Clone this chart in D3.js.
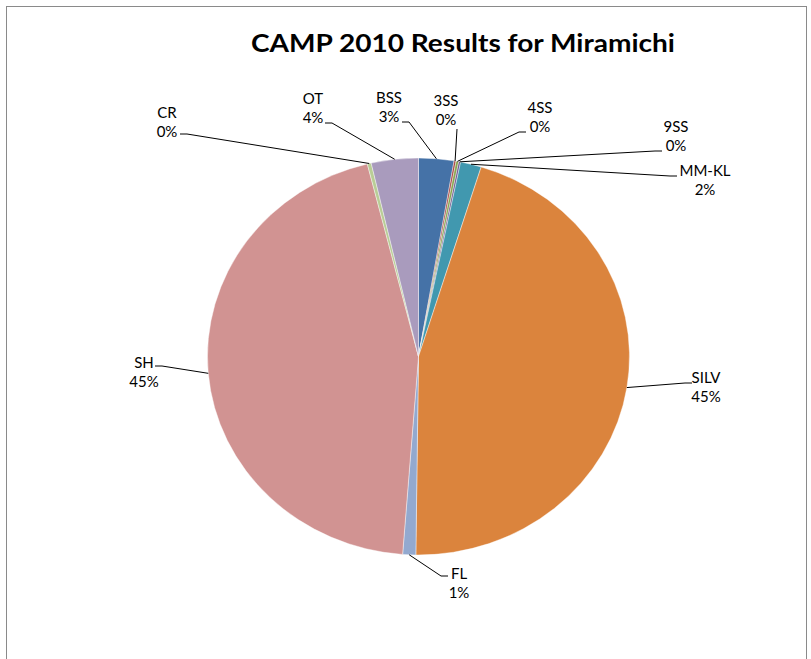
<!DOCTYPE html>
<html>
<head>
<meta charset="utf-8">
<script src="https://cdn.jsdelivr.net/npm/d3@7"></script>
<style>
    body { margin: 0; background: #fff; }
    svg text { font-family: Lato, "Open Sans", sans-serif; fill: #000; }
</style>
</head>
<body>
<svg id="chart" width="811" height="659"></svg>
<script>
// slice data, clockwise from 12 o'clock
var categories = ['BSS', '3SS', '4SS', '9SS', 'MM-KL', 'SILV', 'FL', 'SH', 'CR', 'OT'];
var shares = [2.7, 0.15, 0.2, 0.15, 1.6, 45.4, 1.0, 44.9, 0.3, 3.6];
var colors = ['#4572A7', '#AA4643', '#89A54E', '#71588F', '#4198AF', '#DB843D', '#93A9CF', '#D19392', '#B9CD96', '#A99BBD'];

// where Excel put each label (centre x, first baseline) and where its leader starts
var labelPos = [[389, 103], [446, 106], [540, 113], [676, 132], [705, 176], [706, 383], [459, 579], [144, 368], [167, 118], [313, 104]];
var leaderFrom = [[402, 122], [457, 129], [526, 132], [662, 151], [677, 176], [692, 383], [448, 576], [155, 366], [180, 134], [325, 123]];

var svg = d3.select('#chart');

// chart area border
svg.append('rect')
    .attr('x', 6.5).attr('y', 6.5)
    .attr('width', 800).attr('height', 700)
    .style('fill', '#fff')
    .style('stroke', '#8a8a8a')
    .style('stroke-width', 1);

svg.append('text')
    .attr('x', 463).attr('y', 52)
    .attr('text-anchor', 'middle')
    .attr('textLength', 424)
    .attr('lengthAdjust', 'spacingAndGlyphs')
    .style('font-size', '25px')
    .style('font-weight', 'bold')
    .text('CAMP 2010 Results for Miramichi');

// the pie in the picture is a bit wider than tall
var cx = 418.5, cy = 356.5, ry = 198.5, rx = 211;
var sx = rx / ry;

var data = categories.map(function (c, i) {
    return { name: c, value: shares[i], color: colors[i], i: i };
});
var total = d3.sum(shares);

var pie = d3.pie().sort(null).value(function (d) { return d.value; });
var arc = d3.arc().innerRadius(0).outerRadius(ry);
var arcs = pie(data);

var g = svg.append('g')
    .attr('transform', 'translate(' + cx + ',' + cy + ') scale(' + sx + ',1)');

g.selectAll('path')
    .data(arcs)
    .enter()
    .append('path')
    .attr('d', arc)
    .style('fill', function (d) { return d.data.color; })
    .style('stroke', '#fff')
    .style('stroke-width', 0.4);

// leader lines
var leaders = svg.append('g');
arcs.forEach(function (d, i) {
    var a = (d.startAngle + d.endAngle) / 2;
    var end = [cx + rx * Math.sin(a), cy - ry * Math.cos(a)];
    var start = leaderFrom[i];
    var pts = [start];
    if (d.data.name !== '3SS') {
        var dir = end[0] > start[0] ? 1 : -1;
        pts.push([start[0] + dir * 7, start[1]]);
    }
    pts.push(end);
    leaders.append('path')
        .attr('d', d3.line()(pts))
        .style('fill', 'none')
        .style('stroke', '#000')
        .style('stroke-width', 1);
});

// labels: name and rounded percentage
var labels = svg.append('g').style('font-size', '15px');
arcs.forEach(function (d, i) {
    var t = labels.append('text')
        .attr('x', labelPos[i][0])
        .attr('y', labelPos[i][1])
        .attr('text-anchor', 'middle');
    t.append('tspan').text(d.data.name);
    t.append('tspan')
        .attr('x', labelPos[i][0])
        .attr('dy', 19)
        .text(Math.round(d.data.value / total * 100) + '%');
});
</script>
</body>
</html>
